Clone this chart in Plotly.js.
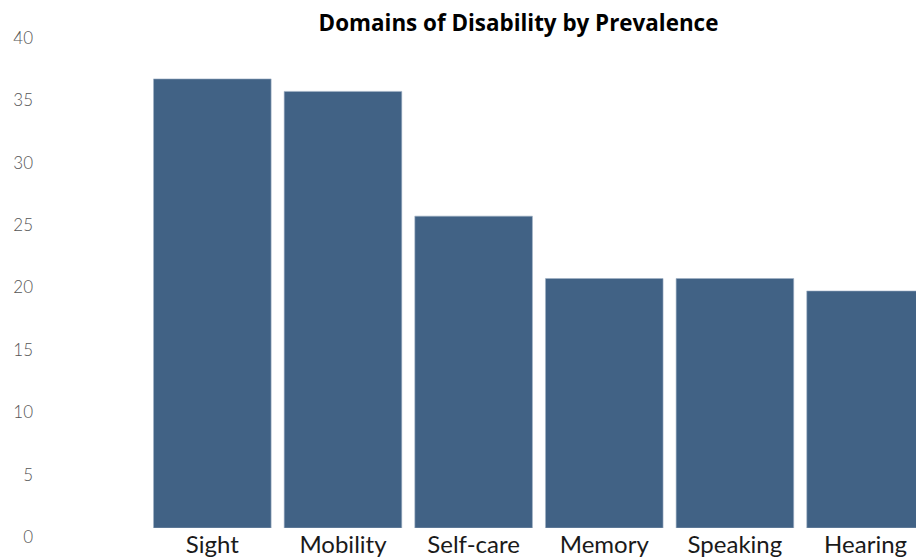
<!DOCTYPE html>
<html>
<head>
<meta charset="utf-8">
<script src="https://cdn.plot.ly/plotly-3.0.1.min.js"></script>
<style>html,body{margin:0;padding:0;background:#fff;}#chart{width:916px;height:558px;}</style>
</head>
<body>
<div id="chart"></div>
<script>
const categories = ["Sight", "Mobility", "Self-care", "Memory", "Speaking", "Hearing"];
const prevalence = [36, 35, 25, 20, 20, 19];
const yTickValues = [0, 5, 10, 15, 20, 25, 30, 35, 40];
const yTickLabels = ["0", "5", "10", "15", "20", "25", "30", "35", "40"];

const trace = {
  type: "bar",
  x: categories,
  y: prevalence,
  marker: { color: "#416285", line: { color: "#9fb0c5", width: 0.6 } },
  hoverinfo: "x+y"
};

const layout = {
  width: 916,
  height: 558,
  paper_bgcolor: "#ffffff",
  plot_bgcolor: "#ffffff",
  margin: { l: 147, r: 0, t: 29, b: 30, autoexpand: false },
  bargap: 0.1,
  showlegend: false,
  title: {
    text: "<b>Domains of Disability by Prevalence</b>",
    font: { family: "'Open Sans', Lato, sans-serif", size: 22.4, color: "#000000" },
    x: 518.5 / 916, xref: "container", xanchor: "center",
    y: 1 - 23 / 558, yref: "container", yanchor: "middle"
  },
  xaxis: {
    type: "category",
    range: [-0.5, 5.386],
    showgrid: false, zeroline: false, showline: false, ticks: "",
    tickfont: { family: "Lato, 'Open Sans', sans-serif", size: 24, color: "#1a1a1a" },
    automargin: false,
    fixedrange: true
  },
  yaxis: {
    range: [0, 40],
    tickvals: yTickValues,
    ticktext: yTickLabels,
    showgrid: false, zeroline: false, showline: false, ticks: "",
    ticklabelstandoff: 113,
    ticklabelshift: 9,
    tickfont: { family: "Lato, 'Open Sans', sans-serif", size: 17, color: "#555555", weight: 300 },
    automargin: false,
    fixedrange: true
  }
};

Plotly.newPlot("chart", [trace], layout, { displayModeBar: false, staticPlot: true });
</script>
</body>
</html>
